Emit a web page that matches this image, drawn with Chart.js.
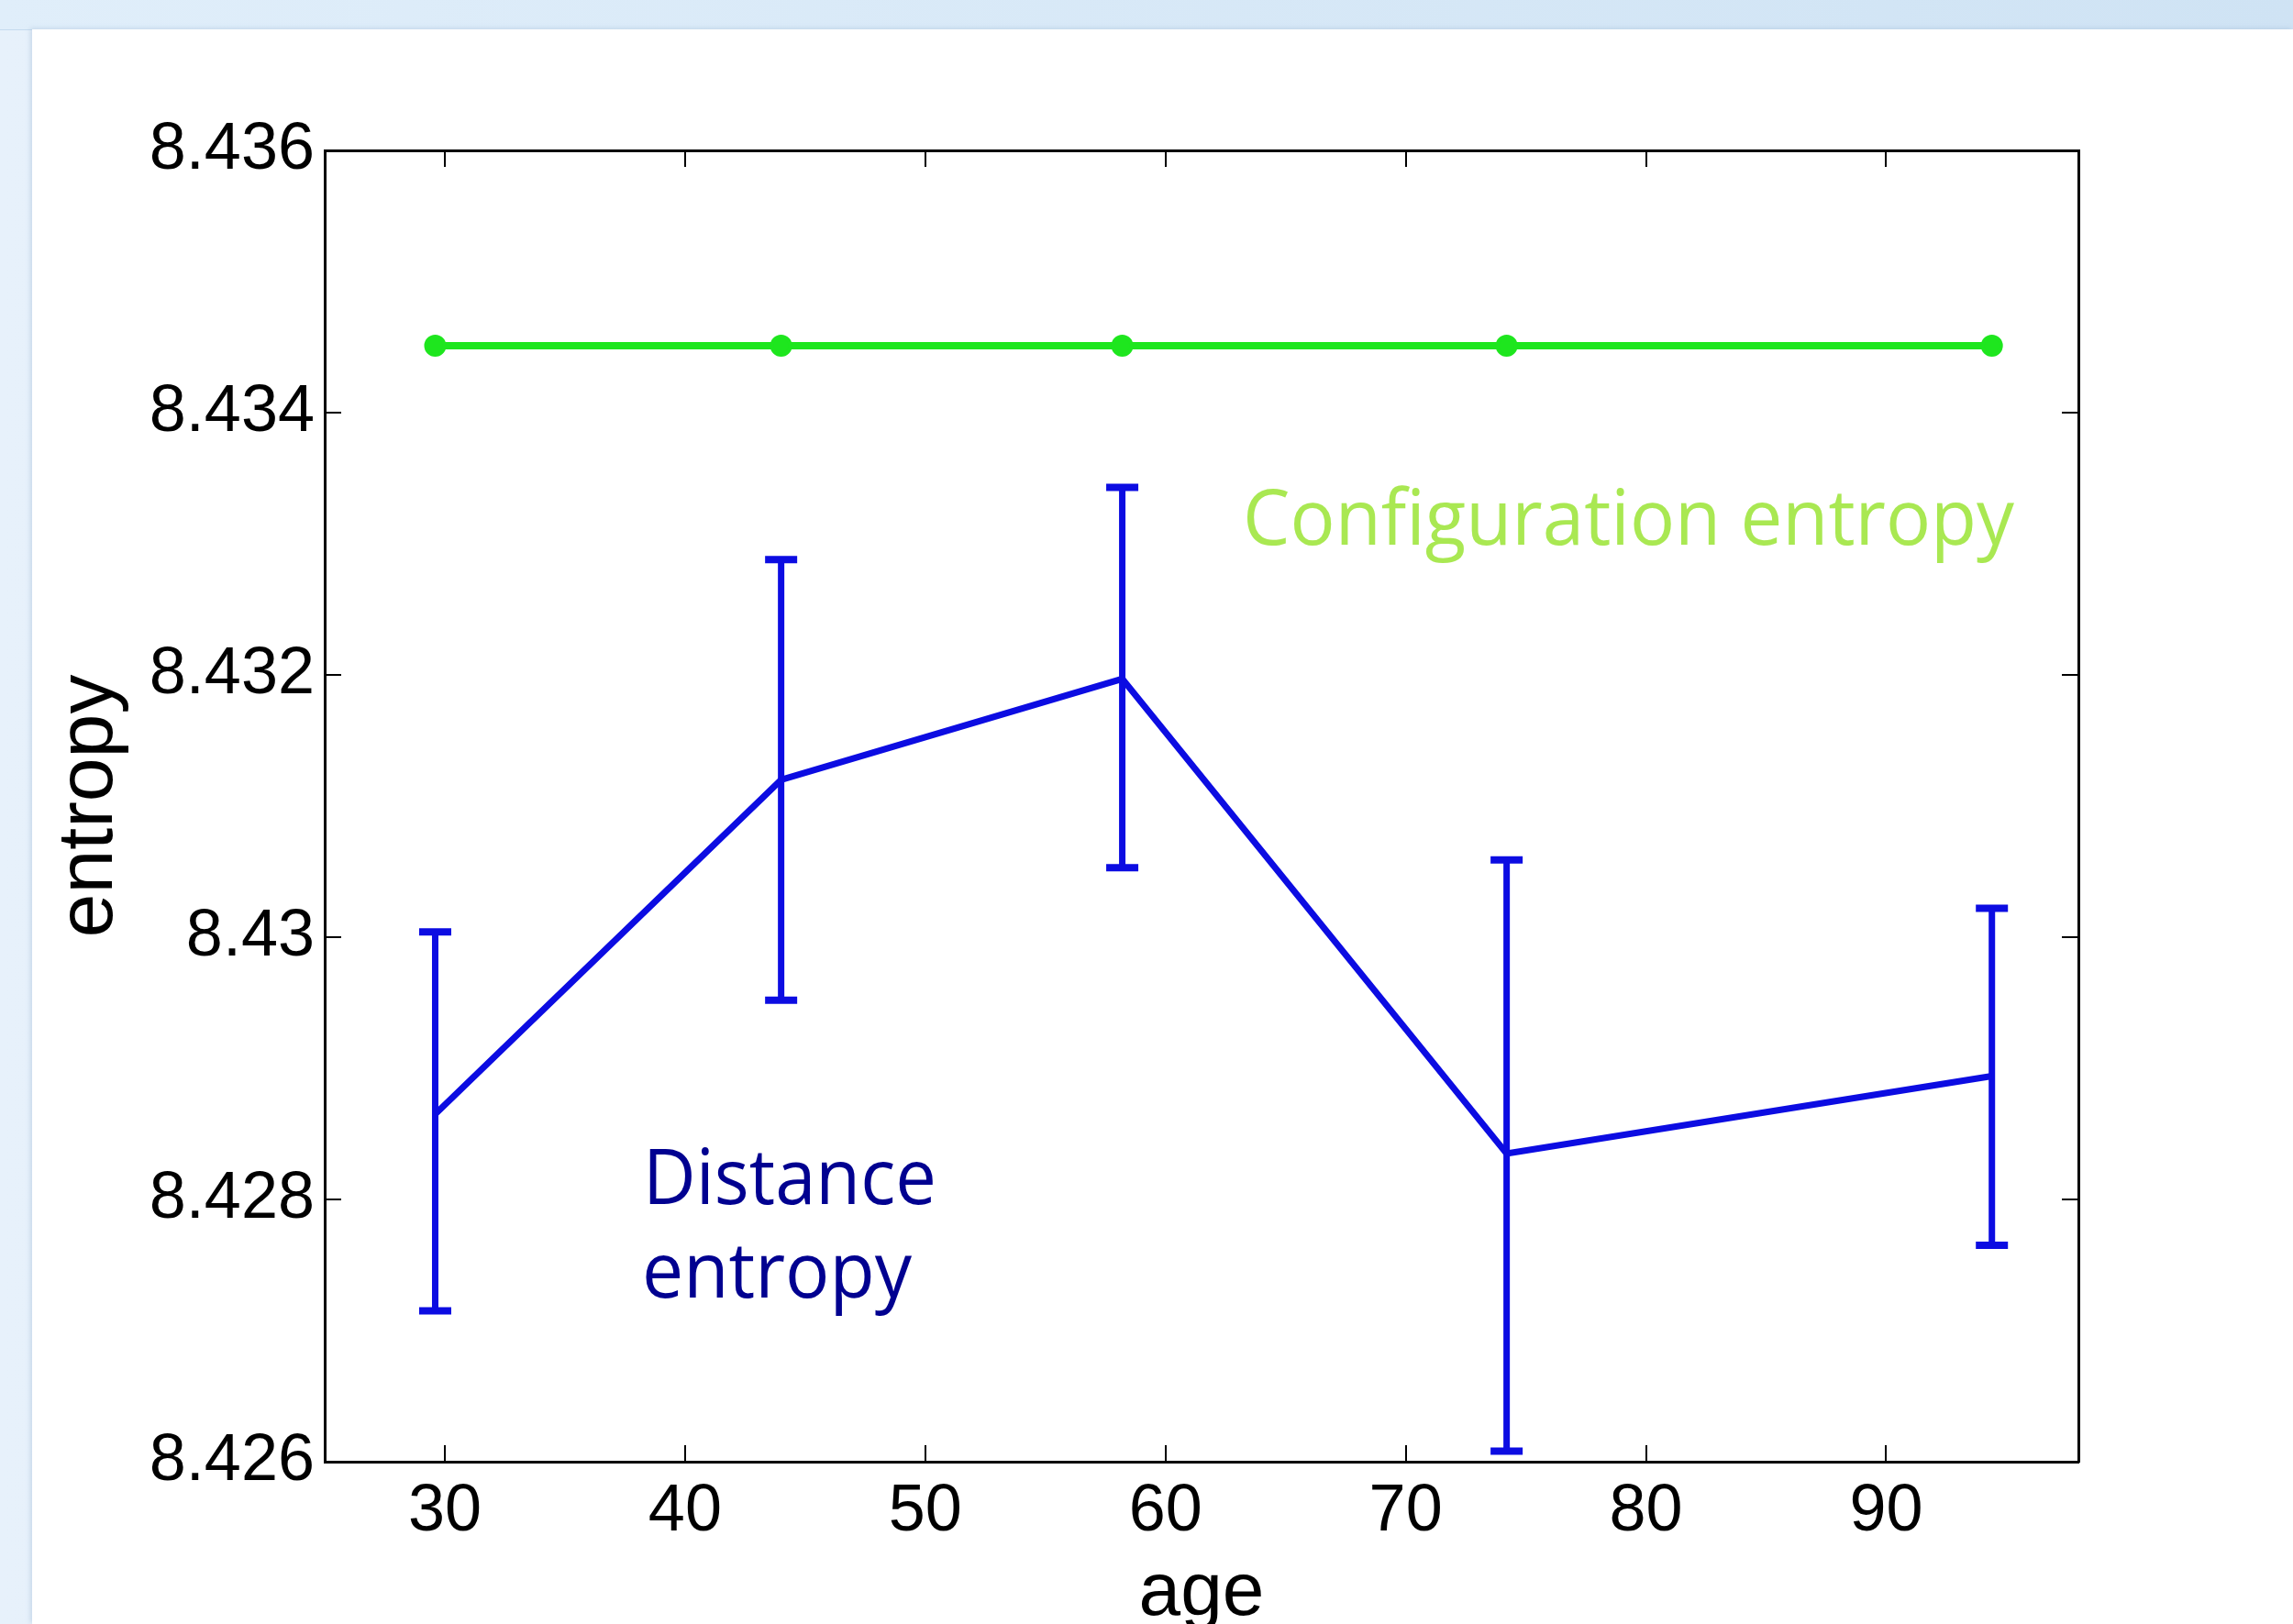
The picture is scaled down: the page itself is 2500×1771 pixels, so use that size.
<!DOCTYPE html>
<html>
<head>
<meta charset="utf-8">
<title>entropy vs age</title>
<script src="https://cdn.jsdelivr.net/npm/chart.js@4.4.1/dist/chart.umd.min.js"></script>
<style>
  html, body { margin: 0; padding: 0; width: 2500px; height: 1771px; overflow: hidden; }
  body { position: relative; background: linear-gradient(to right, #e7f1fb, #d6e8f7); }
  .topband { position: absolute; left: 0; top: 0; width: 2500px; height: 32px;
             background: linear-gradient(to right, #e0eefa, #cfe3f4); border-bottom: 1px solid #c4daee; }
  .panel { position: absolute; left: 35px; top: 32px; right: 0; bottom: 0; background: #fff;
           box-shadow: -2px -1px 5px rgba(140, 170, 200, .35); }
  .wrap { position: absolute; left: 0; top: 0; width: 2500px; height: 1800px; }
</style>
</head>
<body>
<div class="topband"></div>
<div class="panel"></div>
<div class="wrap"><canvas id="chart"></canvas></div>

<script>
/* ─── Données ─────────────────────────────────────────────────────────── */
const ages            = [29.6, 44.0, 58.2, 74.2, 94.4];
const distanceEntropy = [8.42865, 8.43120, 8.43197, 8.42835, 8.42894];
const distanceUpper   = [8.43004, 8.43288, 8.43343, 8.43059, 8.43022];
const distanceLower   = [8.42715, 8.42952, 8.43053, 8.42608, 8.42765];
const configEntropy   = [8.43451, 8.43451, 8.43451, 8.43451, 8.43451];

const xTicks      = [30, 40, 50, 60, 70, 80, 90];
const xTickLabels = ['30', '40', '50', '60', '70', '80', '90'];
const yTicks      = [8.426, 8.428, 8.430, 8.432, 8.434, 8.436];
const yTickLabels = ['8.426', '8.428', '8.43', '8.432', '8.434', '8.436'];

/* ─── Mise en page (px) ───────────────────────────────────────────────── */
const W = 2500, H = 1800;
const frame = { left: 354, right: 2266, top: 164, bottom: 1594 };
const BLUE = '#0c0ce2', GREEN = '#1ee61e';
const tickFont  = { family: '"Liberation Sans", Arial, sans-serif', size: 72 };
const titleFont = { family: '"Liberation Sans", Arial, sans-serif', size: 82 };

// barres d'erreur : segment bas-haut, coupé par un null
const errorBars = ages.flatMap((a, i) => [
  { x: a, y: distanceLower[i] },
  { x: a, y: distanceUpper[i] },
  { x: a, y: null }
]);

const notes = [
  { text: 'Configuration entropy', color: '#a9e852', x: 1355, y: 594,  w: 841 },
  { text: 'Distance',              color: '#010190', x: 701,  y: 1313, w: 320 },
  { text: 'entropy',               color: '#010190', x: 700,  y: 1415, w: 294 }
];

const notesPlugin = {
  id: 'notes',
  afterDraw(chart) {
    const ctx = chart.ctx;
    notes.forEach(n => {
      ctx.save();
      ctx.font = '84px "Open Sans", "Noto Sans", sans-serif';
      ctx.fillStyle = n.color;
      ctx.textBaseline = 'alphabetic';
      const mw = ctx.measureText(n.text).width;
      ctx.translate(n.x, n.y);
      ctx.scale(n.w / mw, 1);
      ctx.fillText(n.text, 0, 0);
      ctx.restore();
    });
  }
};

function frameAxis(axis, position, fitFn, extra) {
  return Object.assign({
    type: 'linear',
    axis,
    position,
    grid: { drawOnChartArea: false, drawTicks: true, tickLength: -18, color: '#000', lineWidth: 2 },
    border: { display: true, color: '#000', width: 3 },
    afterFit: fitFn
  }, extra);
}

const xRange = { min: 25, max: 98, afterBuildTicks: s => { s.ticks = xTicks.map(v => ({ value: v })); } };
const yRange = { min: 8.426, max: 8.436, afterBuildTicks: s => { s.ticks = yTicks.map(v => ({ value: v })); } };

new Chart(document.getElementById('chart'), {
  type: 'line',
  data: {
    datasets: [
      {
        label: 'Configuration entropy',
        data: ages.map((a, i) => ({ x: a, y: configEntropy[i] })),
        borderColor: GREEN,
        backgroundColor: GREEN,
        borderWidth: 8,
        pointRadius: 10,
        pointBorderWidth: 4,
        pointBackgroundColor: GREEN,
        pointBorderColor: GREEN,
        xAxisID: 'x', yAxisID: 'y'
      },
      {
        label: 'Distance entropy',
        data: ages.map((a, i) => ({ x: a, y: distanceEntropy[i] })),
        borderColor: BLUE,
        borderWidth: 7,
        pointRadius: 0,
        xAxisID: 'x', yAxisID: 'y'
      },
      {
        label: 'Erreur',
        data: errorBars,
        borderColor: BLUE,
        borderWidth: 7,
        spanGaps: false,
        pointStyle: 'line',
        pointRadius: 17.5,
        pointBorderWidth: 8,
        pointBorderColor: BLUE,
        xAxisID: 'x', yAxisID: 'y'
      }
    ]
  },
  options: {
    responsive: true,
    maintainAspectRatio: false,
    animation: false,
    events: [],
    layout: { padding: 0 },
    plugins: { legend: { display: false }, tooltip: { enabled: false } },
    scales: {
      x: frameAxis('x', 'bottom', s => { s.height = H - frame.bottom; }, Object.assign({}, xRange, {
        ticks: { padding: 30, font: tickFont, color: '#000', autoSkip: false, maxRotation: 0,
                 callback: (v, i) => xTickLabels[i] },
        title: { display: true, text: 'age', font: titleFont, color: '#000', padding: { top: 0, bottom: 12 } }
      })),
      xTop: frameAxis('x', 'top', s => { s.height = frame.top; }, Object.assign({}, xRange, {
        ticks: { display: false, autoSkip: false }
      })),
      y: frameAxis('y', 'left', s => { s.width = frame.left; }, Object.assign({}, yRange, {
        ticks: { padding: 29, font: tickFont, color: '#000', autoSkip: false,
                 callback: (v, i) => yTickLabels[i] },
        title: { display: true, text: 'entropy', font: { family: titleFont.family, size: 86 }, color: '#000',
                 padding: { top: 47, bottom: 0 } }
      })),
      yRight: frameAxis('y', 'right', s => { s.width = W - frame.right; }, Object.assign({}, yRange, {
        ticks: { display: false, autoSkip: false }
      }))
    }
  },
  plugins: [notesPlugin]
});
</script>
</body>
</html>
